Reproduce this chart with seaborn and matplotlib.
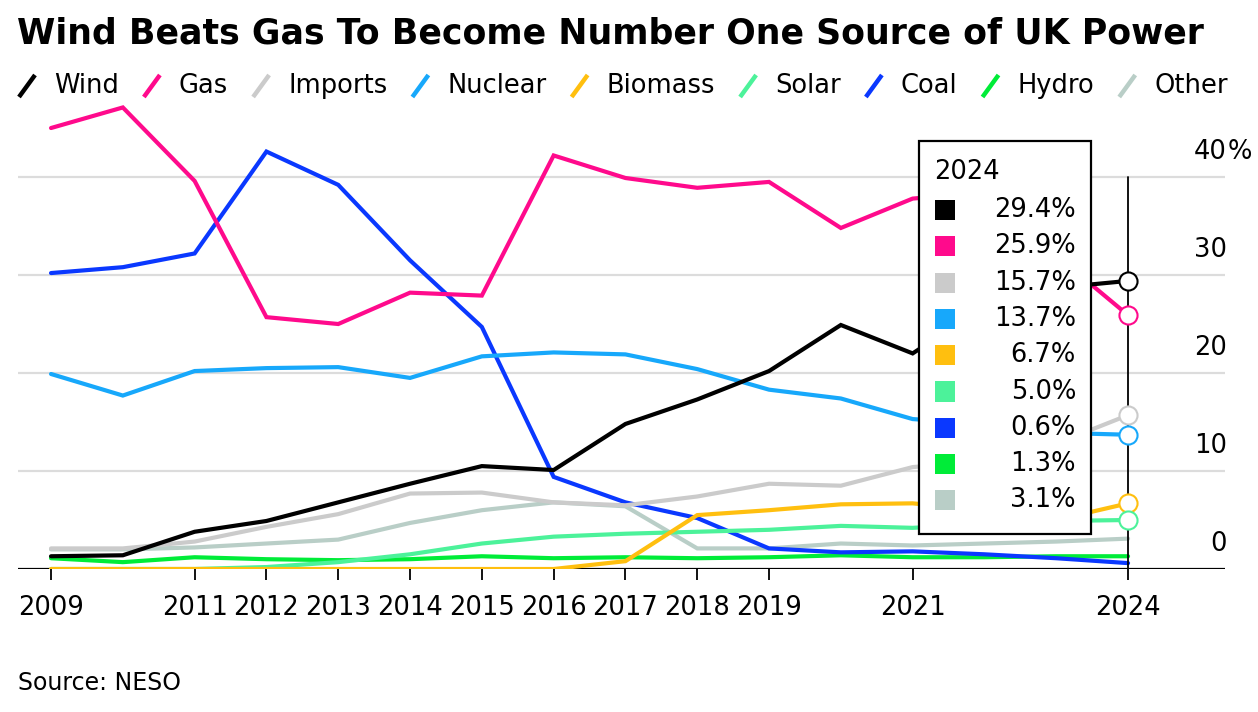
import numpy as np
import pandas as pd
import matplotlib
matplotlib.use("Agg")
import matplotlib.pyplot as plt
import matplotlib.transforms as mtransforms
from matplotlib.lines import Line2D
from matplotlib.patches import Rectangle
import seaborn as sns

# share of UK power generation, %
years = list(range(2009, 2025))
wind = [1.3, 1.4, 3.8, 4.9, 6.8, 8.7, 10.5, 10.1, 14.8, 17.3, 20.2, 24.9, 22.0, 26.8, 28.7, 29.4]
gas = [45.0, 47.1, 39.6, 25.7, 25.0, 28.2, 27.9, 42.2, 39.9, 38.9, 39.5, 34.8, 37.8, 38.4, 32.0, 25.9]
imports = [2.1, 2.1, 2.8, 4.3, 5.6, 7.7, 7.8, 6.8, 6.5, 7.4, 8.7, 8.5, 10.4, 11.0, 12.8, 15.7]
nuclear = [19.9, 17.7, 20.2, 20.5, 20.6, 19.5, 21.7, 22.1, 21.9, 20.4, 18.3, 17.4, 15.3, 14.8, 13.9, 13.7]
biomass = [0, 0, 0, 0, 0, 0, 0, 0, 0.8, 5.5, 6.0, 6.6, 6.7, 6.0, 5.0, 6.7]
solar = [0, 0, 0, 0.2, 0.7, 1.5, 2.6, 3.3, 3.6, 3.8, 4.0, 4.4, 4.2, 4.6, 4.9, 5.0]
coal = [30.2, 30.8, 32.2, 42.6, 39.2, 31.5, 24.7, 9.4, 6.8, 5.2, 2.1, 1.7, 1.8, 1.5, 1.1, 0.6]
hydro = [1.1, 0.7, 1.2, 1.0, 0.9, 1.0, 1.3, 1.1, 1.2, 1.1, 1.2, 1.4, 1.2, 1.2, 1.3, 1.3]
other = [2.0, 2.0, 2.2, 2.6, 3.0, 4.7, 6.0, 6.8, 6.4, 2.1, 2.1, 2.6, 2.4, 2.6, 2.8, 3.1]

sources = ["Wind", "Gas", "Imports", "Nuclear", "Biomass", "Solar", "Coal", "Hydro", "Other"]
series = [wind, gas, imports, nuclear, biomass, solar, coal, hydro, other]
colors = ["#000000", "#ff0a8c", "#cbcbcb", "#17a8fb", "#ffbf0f", "#4cf29a",
          "#0a38ff", "#00ec38", "#b9cec7"]
circled = ["Wind", "Gas", "Imports", "Nuclear", "Biomass", "Solar"]

xtick_years = [2009, 2011, 2012, 2013, 2014, 2015, 2016, 2017, 2018, 2019, 2021, 2024]
ytick_vals = [0, 10, 20, 30, 40]

title = "Wind Beats Gas To Become Number One Source of UK Power"
source_note = "Source: NESO"

W, H = 1258, 712

def fx(px):
    return px / W

def fy(py):
    return 1 - py / H

sns.set_theme(style="white")
plt.rcParams["font.family"] = ["DejaVu Sans"]
plt.rcParams["text.color"] = "black"
plt.rcParams["xtick.color"] = "black"
plt.rcParams["xtick.labelcolor"] = "black"

df = pd.DataFrame({
    "year": years * len(sources),
    "source": [s for s in sources for _ in years],
    "share": [v for vals in series for v in vals],
})
palette = dict(zip(sources, colors))

fig = plt.figure(figsize=(12.58, 7.12), dpi=100)
ax = fig.add_axes([fx(18), fy(569), fx(1225) - fx(18), fy(100) - fy(569)])

sns.lineplot(data=df, x="year", y="share", hue="source", hue_order=sources[::-1],
             palette=palette, linewidth=3, legend=False, ax=ax,
             solid_joinstyle="miter", solid_capstyle="round")

ax.set_xlim(2008.54, 2025.35)
ax.set_ylim(0, 47.86)
for s in ax.spines.values():
    s.set_visible(False)

for v in ytick_vals[1:]:
    ax.axhline(v, color="#dcdcdc", lw=1.6, zorder=0)
ax.axhline(0, color="black", lw=1.6, zorder=1)

ax.set_xticks(xtick_years)
ax.set_xticklabels([str(y) for y in xtick_years])
ax.set_yticks([])
ax.tick_params(axis="x", length=8, width=1.3, color="black", pad=11, labelsize=18.5,
               bottom=True)
ax.set_xlabel("")
ax.set_ylabel("")

# right-hand y labels sit above their gridlines
base = mtransforms.blended_transform_factory(ax.transAxes, ax.transData)
lab_tr = mtransforms.offset_copy(base, fig=fig, y=18, units="points")
for v in ytick_vals:
    ax.text(1.0015, v, str(v), transform=lab_tr, ha="right", va="center", fontsize=18.5)
ax.text(1.002, ytick_vals[-1], "%", transform=lab_tr, ha="left", va="center", fontsize=18.5)

# hover line and end markers for the latest year
last = years[-1]
ax.plot([last, last], [0, 40], color="black", lw=1.3, zorder=8)
for name, vals, col in zip(sources, series, colors):
    if name in circled:
        ax.scatter([last], [vals[-1]], s=170, facecolor="white", edgecolor=col,
                   linewidth=1.5, zorder=10, clip_on=False)

# title, legend, source
fig.text(fx(17), fy(34), title, fontsize=25, fontweight="bold", va="center", ha="left")

renderer = fig.canvas.get_renderer()
x = 18
for name, col in zip(sources, colors):
    fig.add_artist(Line2D([fx(x + 1), fx(x + 17)], [fy(97), fy(75)], color=col, lw=3.2,
                          solid_capstyle="butt"))
    t = fig.text(fx(x + 36), fy(86), name, fontsize=18.5, va="center", ha="left")
    bb = t.get_window_extent(renderer)
    x = bb.x1 + 24

fig.text(fx(18), fy(683), source_note, fontsize=17, va="center", ha="left")

# tooltip box
fig.add_artist(Rectangle((fx(919), fy(534)), fx(1091) - fx(919), fy(141) - fy(534),
                         facecolor="white", edgecolor="black", lw=1.6, zorder=20))
fig.text(fx(934), fy(172), str(last), fontsize=18.5, va="center", ha="left", zorder=21)
for i, (vals, col) in enumerate(zip(series, colors)):
    yc = 210 + i * 36.3
    fig.add_artist(Rectangle((fx(935), fy(yc + 10)), fx(955) - fx(935), fy(yc - 10) - fy(yc + 10),
                             facecolor=col, edgecolor="none", zorder=21))
    fig.text(fx(1076), fy(yc), f"{vals[-1]:.1f}%", fontsize=18.5, va="center", ha="right",
             zorder=21)

fig.savefig("out.png", dpi=100)
